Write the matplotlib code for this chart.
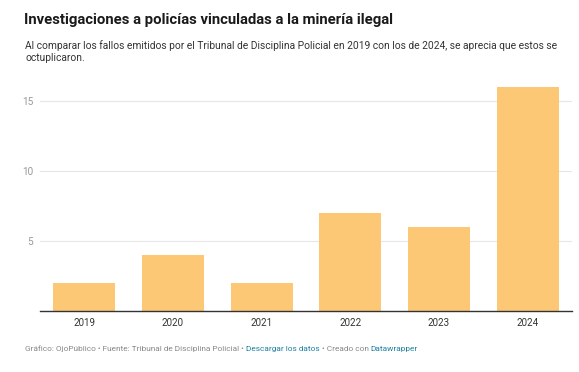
import matplotlib
matplotlib.use('Agg')
import matplotlib.pyplot as plt

plt.rcParams['font.family'] = ['Roboto', 'DejaVu Sans']

years = ['2019', '2020', '2021', '2022', '2023', '2024']
fallos = [2, 4, 2, 7, 6, 16]
yticks = [5, 10, 15]

W, H = 579, 372
fig = plt.figure(figsize=(W / 100, H / 100), dpi=100)
ax = fig.add_axes([40 / W, 1 - 311 / H, 532 / W, 226 / H])

x = range(len(years))
ax.bar(x, fallos, width=0.7, color='#fdc875', zorder=2)
ax.set_xlim(-0.5, 5.5)
ax.set_ylim(0, 226 / 14)
ax.set_xticks(list(x))
ax.set_xticklabels(years, fontsize=7, color='#333333')
ax.set_yticks(yticks)
ax.set_yticklabels([str(v) for v in yticks], fontsize=7.2, color='#999999')
ax.tick_params(axis='both', length=0)
ax.tick_params(axis='x', pad=5)
ax.tick_params(axis='y', pad=5)
ax.grid(axis='y', color='#e6e6e6', linewidth=0.8, zorder=0)
for s in ['top', 'right', 'left']:
    ax.spines[s].set_visible(False)
ax.spines['bottom'].set_color('#333333')
ax.spines['bottom'].set_linewidth(1)
ax.spines['bottom'].set_zorder(3)

fig.text(24 / W, 1 - 20 / H, 'Investigaciones a policías vinculadas a la minería ilegal',
         fontsize=10.7, fontweight='bold', color='#1a1a1a', va='center', ha='left')
fig.text(25 / W, 1 - 51.5 / H,
         'Al comparar los fallos emitidos por el Tribunal de Disciplina Policial en 2019 con los de 2024, se aprecia que estos se\noctuplicaron.',
         fontsize=7.37, color='#333333', va='center', ha='left', linespacing=1.2)

# footer with link-coloured pieces
pieces = [('Gráfico: OjoPúblico • Fuente: Tribunal de Disciplina Policial • ', '#888888'),
          ('Descargar los datos', '#1d81a2'),
          (' • Creado con ', '#888888'),
          ('Datawrapper', '#1d81a2')]
fig.canvas.draw()
r = fig.canvas.get_renderer()
xpos = 25
for txt, col in pieces:
    t = fig.text(xpos / W, 1 - 349 / H, txt, fontsize=5.93, color=col, va='center', ha='left')
    bb = t.get_window_extent(renderer=r)
    xpos += bb.width

fig.savefig('out.png', dpi=100)
